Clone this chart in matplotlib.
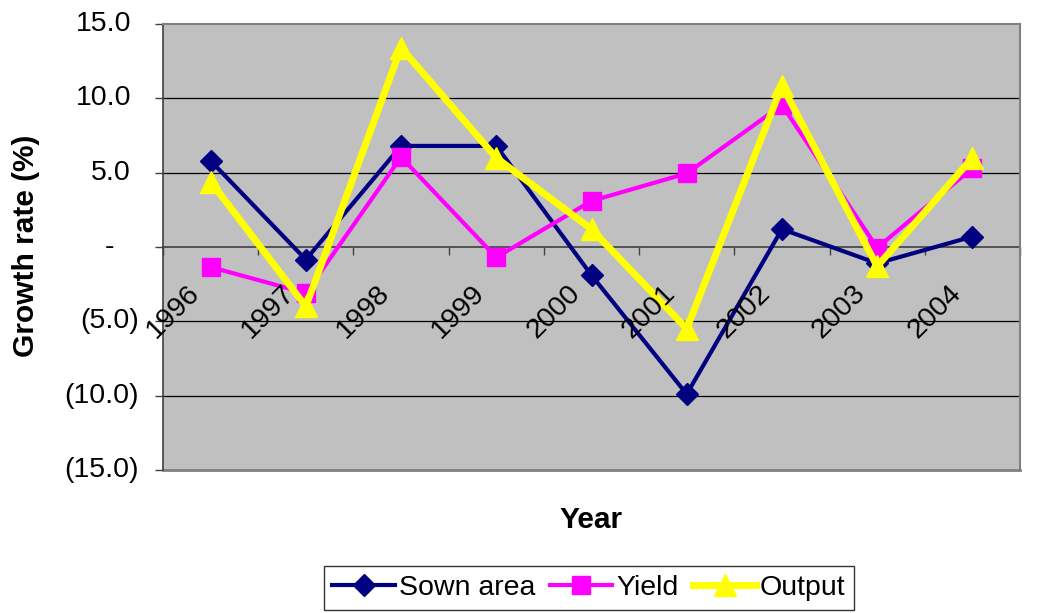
import numpy as np
import matplotlib
matplotlib.use("Agg")
import matplotlib.pyplot as plt
import matplotlib.transforms as mtransforms

plt.rcParams['font.family'] = ['Liberation Sans', 'DejaVu Sans']

# data
years = ['1996', '1997', '1998', '1999', '2000', '2001', '2002', '2003', '2004']
sown_area = [5.8, -0.85, 6.8, 6.8, -1.9, -9.9, 1.2, -1.1, 0.7]
yield_ = [-1.35, -3.1, 6.05, -0.7, 3.1, 4.95, 9.55, -0.05, 5.3]
output = [4.4, -4.0, 13.4, 6.0, 1.2, -5.5, 10.85, -1.3, 6.0]
yticks = [15, 10, 5, 0, -5, -10, -15]
ytick_labels = ['15.0', '10.0', '5.0', '-', '(5.0)', '(10.0)', '(15.0)']

fs = 20.5
fig = plt.figure(figsize=(10.37, 6.13), dpi=100)
ax = fig.add_axes([163/1037, 1-470/613, (1020-163)/1037, (470-24)/613])
ax.set_facecolor('#C0C0C0')

x = np.arange(len(years))
ax.set_xlim(-0.5, len(years)-0.5)
ax.set_ylim(-15, 15)

# gridlines
for v in yticks:
    if v not in (0, 15, -15):
        ax.axhline(v, color='black', lw=0.9, zorder=1)

ax.plot(x, sown_area, color='#000080', lw=3, marker='D', ms=11, zorder=3, label='Sown area')
ax.plot(x, yield_, color='#FF00FF', lw=3, marker='s', ms=13, zorder=4, label='Yield')
ax.plot(x, output, color='#FFFF00', lw=5, marker='^', ms=16, zorder=5, label='Output')

# spines / category axis at zero
for s in ['top', 'right']:
    ax.spines[s].set_color('#808080')
    ax.spines[s].set_linewidth(1.5)
ax.spines['left'].set_color('#404040')
ax.spines['left'].set_linewidth(1.2)
ax.spines['bottom'].set_position(('data', 0))
ax.spines['bottom'].set_color('#404040')
ax.spines['bottom'].set_linewidth(1.2)
ax.spines['bottom'].set_zorder(2)
ax.axhline(-15, color='#808080', lw=2, zorder=2, clip_on=False)

ax.set_xticks(np.arange(len(years)+1) - 0.5)
ax.set_xticklabels([])
ax.tick_params(axis='x', direction='out', length=6, width=1, color='#404040')

ax.set_yticks(yticks)
ax.set_yticklabels([])
ax.tick_params(axis='y', direction='out', length=6, width=1, color='#404040')

# y tick labels (accounting style alignment)
ytrans = mtransforms.blended_transform_factory(fig.transFigure, ax.transData)
for v, lab in zip(yticks, ytick_labels):
    if v < 0:
        xr = 139
    elif v == 0:
        xr = 114
    else:
        xr = 131
    ax.text(xr/1037, v, lab, transform=ytrans, ha='right', va='center', fontsize=fs)

# rotated category labels just below the zero line
off = mtransforms.ScaledTranslation(-6/100, -33/100, fig.dpi_scale_trans)
for i, yr in enumerate(years):
    ax.text(i, 0, yr, transform=ax.transData + off, rotation=45,
            ha='right', va='top', fontsize=fs, zorder=6)

fig.text(26/1037, 1-246/613, 'Growth rate (%)', rotation=90, ha='center', va='center',
         fontsize=21.5, fontweight='bold')
fig.text(591/1037, 1-520/613, 'Year', ha='center', va='center', fontsize=21.5, fontweight='bold')

leg = fig.legend(loc='center', bbox_to_anchor=(589/1037, 1-588/613), ncol=3, fontsize=fs,
                 frameon=True, fancybox=False, edgecolor='black', handlelength=2.2,
                 handletextpad=0.15, columnspacing=0.5, borderpad=0.3, borderaxespad=0,
                 markerscale=1.0)
leg.get_frame().set_linewidth(1)

fig.savefig('out.png', dpi=100)
